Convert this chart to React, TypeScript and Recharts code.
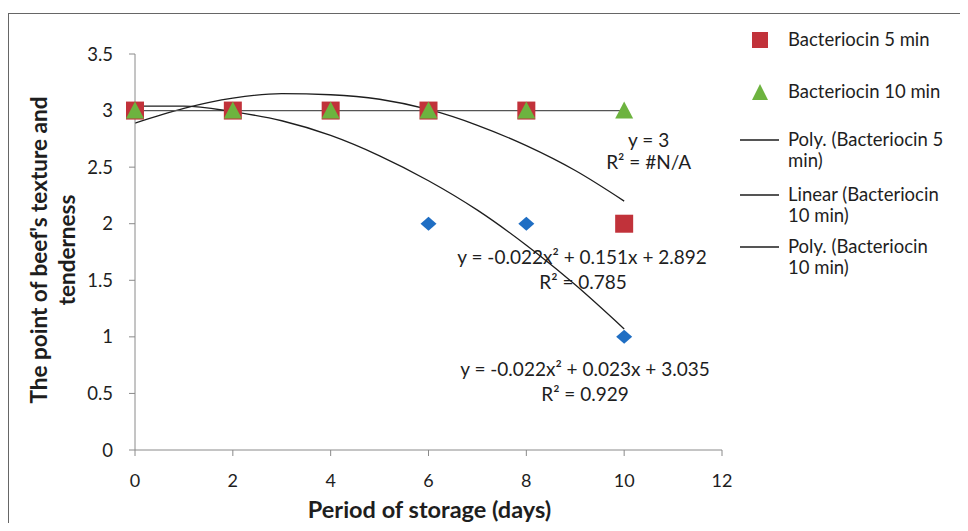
import {
  ComposedChart,
  Scatter,
  Line,
  XAxis,
  YAxis,
  Legend,
  ReferenceDot,
  Label,
} from "recharts";

// storage days and texture/tenderness points
const days = [0, 2, 4, 6, 8, 10];
const controlScores = [3, 3, 3, 2, 2, 1];
const bacteriocin5Scores = [3, 3, 3, 3, 3, 2];
const bacteriocin10Scores = [3, 3, 3, 3, 3, 3];

// trend lines, read at each day from the drawn curves
const trendDays = [0, 1, 2, 3, 4, 5, 6, 7, 8, 9, 10];
const polyBact5Trend = [2.89, 3.02, 3.11, 3.15, 3.14, 3.1, 3.01, 2.87, 2.69, 2.47, 2.2];
const polyControlTrend = [3.04, 3.04, 2.99, 2.91, 2.78, 2.6, 2.38, 2.12, 1.81, 1.46, 1.07];
const linearDays = [0, 10];
const linearBact10Trend = [3, 3];

const xTicks = [0, 2, 4, 6, 8, 10, 12];
const yTicks = [0, 0.5, 1, 1.5, 2, 2.5, 3, 3.5];

const toPoints = (xs: number[], ys: number[]) => xs.map((x, i) => ({ x, y: ys[i] }));

const controlData = toPoints(days, controlScores);
const bact5Data = toPoints(days, bacteriocin5Scores);
const bact10Data = toPoints(days, bacteriocin10Scores);
const polyBact5Data = toPoints(trendDays, polyBact5Trend);
const polyControlData = toPoints(trendDays, polyControlTrend);
const linearBact10Data = toPoints(linearDays, linearBact10Trend);

const RED = "#C1323A";
const GREEN = "#6DB33F";
const BLUE = "#1F6EC3";
const INK = "#1e1e1e";
const AXIS = "#8a8a8a";

const equations = [
  { x: 10.5, y: 2.74, text: "y = 3" },
  { x: 10.5, y: 2.54, text: "R² = #N/A" },
  { x: 9.14, y: 1.7, text: "y = -0.022x² + 0.151x + 2.892" },
  { x: 9.16, y: 1.48, text: "R² = 0.785" },
  { x: 9.2, y: 0.71, text: "y = -0.022x² + 0.023x + 3.035" },
  { x: 9.2, y: 0.49, text: "R² = 0.929" },
];

const SquareShape = (props: any) => (
  <rect x={props.cx - 9} y={props.cy - 9} width={18} height={18} fill={RED} />
);
const TriangleShape = (props: any) => (
  <polygon
    points={`${props.cx},${props.cy - 9} ${props.cx - 9},${props.cy + 8} ${props.cx + 9},${props.cy + 8}`}
    fill={GREEN}
  />
);
const DiamondShape = (props: any) => (
  <polygon
    points={`${props.cx},${props.cy - 7} ${props.cx + 8},${props.cy} ${props.cx},${props.cy + 7} ${props.cx - 8},${props.cy}`}
    fill={BLUE}
  />
);

const legendText: React.CSSProperties = {
  position: "absolute",
  left: 788,
  fontSize: 18.5,
  lineHeight: "21px",
  color: INK,
  whiteSpace: "nowrap",
};

function ChartLegend() {
  const lineItems = [
    { y: 140, lines: ["Poly. (Bacteriocin 5", "min)"] },
    { y: 195, lines: ["Linear (Bacteriocin", "10 min)"] },
    { y: 247, lines: ["Poly. (Bacteriocin", "10 min)"] },
  ];
  // zero-size box so the chart keeps its full plot height
  return (
    <div style={{ position: "relative", width: 0, height: 0, overflow: "visible" }}>
      <div style={{ position: "absolute", left: 752, top: 32, width: 16, height: 16, background: RED }} />
      <div style={{ ...legendText, top: 29 }}>Bacteriocin 5 min</div>
      <svg style={{ position: "absolute", left: 751, top: 83 }} width={18} height={18}>
        <polygon points="9,1 1,17 17,17" fill={GREEN} />
      </svg>
      <div style={{ ...legendText, top: 81 }}>Bacteriocin 10 min</div>
      {lineItems.map((item) => (
        <div key={item.y}>
          <div
            style={{ position: "absolute", left: 740, top: item.y - 1, width: 39, height: 1.5, background: "#555" }}
          />
          <div style={{ ...legendText, top: item.y - 11 }}>
            {item.lines[0]}
            <br />
            {item.lines[1]}
          </div>
        </div>
      ))}
    </div>
  );
}

export default function App() {
  return (
    <div
      style={{
        position: "relative",
        width: 968,
        height: 531,
        margin: -8,
        overflow: "hidden",
        background: "#fff",
        fontFamily: "Lato, sans-serif",
      }}
    >
      <div
        style={{
          position: "absolute",
          left: 8,
          top: 13,
          width: 1000,
          height: 600,
          border: "1.5px solid #666",
        }}
      />
      <ComposedChart
        width={968}
        height={531}
        margin={{ top: 54, right: 246, bottom: 0, left: 0 }}
        style={{ fontFamily: "Lato, sans-serif" }}
      >
        <XAxis
          type="number"
          dataKey="x"
          domain={[0, 12]}
          ticks={xTicks}
          height={81}
          tickSize={6}
          tickMargin={18}
          stroke={AXIS}
          tick={{ fill: INK, fontSize: 18 }}
        >
          <Label
            content={(p: any) => (
              <text
                x={p.viewBox.x + p.viewBox.width / 2 + 1}
                y={p.viewBox.y + 59}
                textAnchor="middle"
                dominantBaseline="central"
                fontSize={23.5}
                fontWeight="bold"
                fill={INK}
              >
                Period of storage (days)
              </text>
            )}
          />
        </XAxis>
        <YAxis
          type="number"
          dataKey="y"
          domain={[0, 3.5]}
          ticks={yTicks}
          width={135}
          tickSize={6}
          tickMargin={16}
          stroke={AXIS}
          tick={{ fill: INK, fontSize: 18.5 }}
        >
          <Label
            content={(p: any) => {
              const cy = p.viewBox.y + p.viewBox.height / 2 - 2;
              return (
                <g fontSize={22.5} fontWeight="bold" fill={INK}>
                  <text x={38} y={cy} textAnchor="middle" dominantBaseline="central" transform={`rotate(-90 38 ${cy})`}>
                    The point of beef's texture and
                  </text>
                  <text x={66} y={cy} textAnchor="middle" dominantBaseline="central" transform={`rotate(-90 66 ${cy})`}>
                    tenderness
                  </text>
                </g>
              );
            }}
          />
        </YAxis>
        <Legend
          content={() => <ChartLegend />}
          wrapperStyle={{ position: "absolute", left: 0, top: 0, width: 0, height: 0 }}
        />
        <Scatter data={controlData} shape={DiamondShape} legendType="none" isAnimationActive={false} />
        <Scatter name="Bacteriocin 5 min" data={bact5Data} shape={SquareShape} isAnimationActive={false} />
        <Scatter name="Bacteriocin 10 min" data={bact10Data} shape={TriangleShape} isAnimationActive={false} />
        <Line
          data={polyBact5Data}
          dataKey="y"
          type="monotone"
          stroke={INK}
          strokeWidth={1.3}
          dot={false}
          activeDot={false}
          isAnimationActive={false}
        />
        <Line
          data={linearBact10Data}
          dataKey="y"
          type="linear"
          stroke="#555"
          strokeWidth={1.3}
          dot={false}
          activeDot={false}
          isAnimationActive={false}
        />
        <Line
          data={polyControlData}
          dataKey="y"
          type="monotone"
          stroke={INK}
          strokeWidth={1.3}
          dot={false}
          activeDot={false}
          isAnimationActive={false}
        />
        {equations.map((e) => (
          <ReferenceDot
            key={e.text}
            x={e.x}
            y={e.y}
            r={1}
            fill="none"
            stroke="none"
            label={{ value: e.text, position: "center", fill: INK, fontSize: 19 }}
          />
        ))}
      </ComposedChart>
    </div>
  );
}
